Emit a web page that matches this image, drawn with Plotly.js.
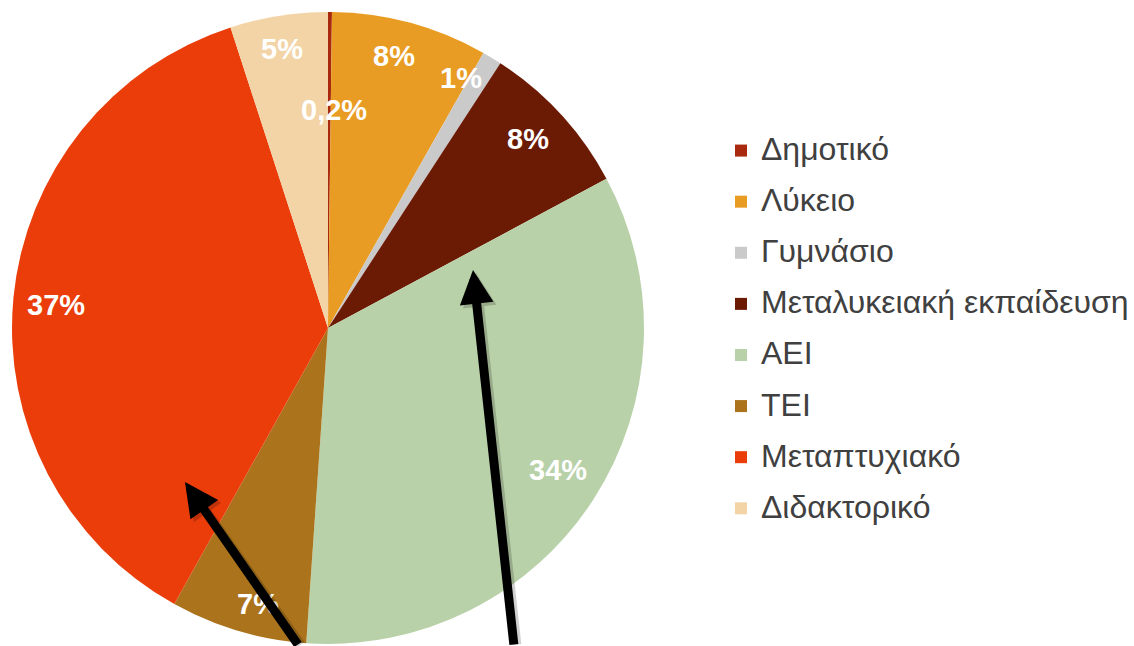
<!DOCTYPE html>
<html>
<head>
<meta charset="utf-8">
<script src="https://cdn.plot.ly/plotly-3.0.1.min.js"></script>
<style>html,body{margin:0;padding:0;background:#fff;}#chart{width:1134px;height:646px;}</style>
</head>
<body>
<div id="chart"></div>
<script>
const categories = ["Δημοτικό", "Λύκειο", "Γυμνάσιο", "Μεταλυκειακή εκπαίδευση", "ΑΕΙ", "ΤΕΙ", "Μεταπτυχιακό", "Διδακτορικό"];
const shares = [0.2, 8, 1, 8, 34, 7, 37, 5];
const sliceColors = ["#A8290D", "#E99C23", "#CACACA", "#6B1A04", "#B9D1A9", "#AB741C", "#EA3D0A", "#F2D4A7"];

// label placement (fraction of radius, angular nudge in degrees) – styling only
const labelRadius = [0.69, 0.885, 0.895, 0.87, 0.855, 0.90, 0.865, 0.895];
const labelNudge = [1.2, -1.4, -3.3, -0.8, -1.2, -2.2, -0.8, -0.4];

const shareText = shares.map(v => String(v).replace('.', ',') + '%');
const legendLabels = categories.map(c => '<span style="font-size:32px;baseline-shift:5px">' + c + '</span>');

const W = 1134, H = 646;
const dom = {x: [0.01058, 0.5679], y: [0.0031, 0.9814]};
const R = Math.min((dom.x[1] - dom.x[0]) * W, (dom.y[1] - dom.y[0]) * H) / 2;
const cx = (dom.x[0] + dom.x[1]) / 2, cy = (dom.y[0] + dom.y[1]) / 2;
const total = shares.reduce((a, b) => a + b, 0);

const trace = {
  type: 'pie',
  labels: legendLabels,
  values: shares,
  textinfo: 'none',
  sort: false,
  direction: 'clockwise',
  rotation: 0,
  marker: {colors: sliceColors, line: {width: 0}},
  domain: dom,
  hoverinfo: 'label+percent'
};

const annotations = [];
let cum = 0;
shares.forEach((v, i) => {
  const mid = (cum + v / 2) / total * 2 * Math.PI + labelNudge[i] * Math.PI / 180;
  cum += v;
  const rr = R * labelRadius[i];
  annotations.push({
    xref: 'paper', yref: 'paper',
    x: cx + rr * Math.sin(mid) / W,
    y: cy + rr * Math.cos(mid) / H,
    text: '<b>' + shareText[i] + '</b>',
    showarrow: false,
    xanchor: 'center', yanchor: 'middle',
    font: {family: 'Liberation Sans, Arial, sans-serif', size: 29, color: '#ffffff'}
  });
});

const arrows = [
  {x: 185, y: 482, ax: 114, ay: 178},
  {x: 473, y: 270, ax: 41, ay: 390}
];
arrows.forEach(a => {
  annotations.push({xref: 'paper', yref: 'paper', x: (a.x + 3) / W, y: 1 - (a.y + 3) / H, ax: a.ax, ay: a.ay,
    axref: 'pixel', ayref: 'pixel', text: '', showarrow: true, arrowhead: 2, arrowsize: 0.75, arrowwidth: 9,
    arrowcolor: 'rgba(0,0,0,0.18)'});
});
arrows.forEach(a => {
  annotations.push({xref: 'paper', yref: 'paper', x: a.x / W, y: 1 - a.y / H, ax: a.ax, ay: a.ay,
    axref: 'pixel', ayref: 'pixel', text: '', showarrow: true, arrowhead: 2, arrowsize: 0.75, arrowwidth: 9,
    arrowcolor: '#000000'});
});

const layout = {
  width: W,
  height: H,
  margin: {l: 0, r: 0, t: 0, b: 0},
  paper_bgcolor: '#ffffff',
  showlegend: true,
  legend: {
    x: 0.6358, xanchor: 'left',
    y: 0.8142, yanchor: 'top',
    font: {family: 'Liberation Sans, Arial, sans-serif', size: 37, color: '#404040'},
    bgcolor: 'rgba(0,0,0,0)'
  },
  annotations: annotations
};

Plotly.newPlot('chart', [trace], layout, {displayModeBar: false, staticPlot: true});
</script>
</body>
</html>
